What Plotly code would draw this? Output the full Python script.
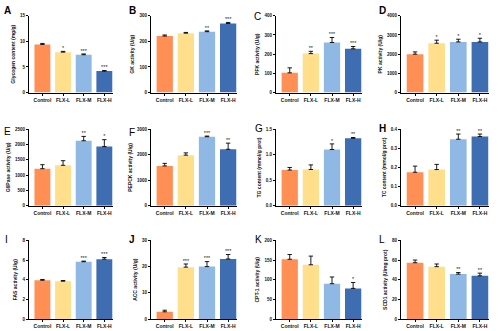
import plotly.graph_objects as go

categories = ["Control", "FLX-L", "FLX-M", "FLX-H"]
colors = ["#FF8F55", "#FFDE8C", "#8FB9E4", "#3E6DB2"]

panel_letters = ["A", "B", "C", "D", "E", "F", "G", "H", "I", "J", "K", "L"]
y_titles = [
    "Glycogen content (mg/g)", "GK activity (U/g)", "PFK activity (U/g)", "PK activity (U/g)",
    "G6Pase activity (U/g)", "PEPCK activity (U/g)", "TG content (mmol/g prot)", "TC content (mmol/g prot)",
    "FAS activity (U/g)", "ACC activity (U/g)", "CPT-1 activity (U/g)", "SCD1 activity (U/mg prot)",
]
means = [
    [9.4, 7.9, 7.4, 4.2],
    [221, 232, 238, 270],
    [103, 203, 261, 228],
    [2000, 2570, 2640, 2640],
    [1210, 1320, 2120, 1930],
    [1560, 1980, 2700, 2210],
    [0.70, 0.71, 1.10, 1.32],
    [0.175, 0.189, 0.347, 0.361],
    [3.95, 3.85, 5.83, 6.09],
    [2.8, 19.8, 20.0, 22.9],
    [152, 138, 90, 78],
    [57.3, 53.3, 45.7, 44.0],
]
errors = [
    [0.2, 0.15, 0.15, 0.1],
    [4, 3, 3, 4],
    [26, 12, 26, 12],
    [120, 160, 140, 190],
    [130, 150, 140, 225],
    [100, 90, 26, 240],
    [0.05, 0.09, 0.11, 0.015],
    [0.032, 0.027, 0.027, 0.013],
    [0.07, 0.07, 0.06, 0.17],
    [0.6, 1.2, 1.9, 1.7],
    [12, 22, 17, 15],
    [2.7, 2.7, 1.6, 2.7],
]
sig = [
    ["", "*", "***", "***"],
    ["", "", "**", "***"],
    ["", "**", "***", "***"],
    ["", "*", "*", "*"],
    ["", "", "**", "*"],
    ["", "", "***", "**"],
    ["", "", "*", "**"],
    ["", "", "**", "**"],
    ["", "", "***", "***"],
    ["", "***", "***", "***"],
    ["", "", "", "*"],
    ["", "", "**", "**"],
]
y_max = [15, 300, 400, 4000, 2500, 3000, 1.5, 0.4, 8, 30, 200, 80]
y_dtick = [5, 100, 100, 1000, 500, 1000, 0.5, 0.1, 2, 10, 50, 20]
y_fmt = ["", "", "", "", "", "", ".1f", ".1f", "", "", "", ""]

W, H = 500, 331
col_px = [(29, 113), (151, 237), (276, 362), (401, 489)]
row_px = [(14, 92), (129, 207), (242, 322)]
letter_px = [(2, 1), (127, 1), (252, 7), (377, 1),
             (2, 124), (127, 125), (253, 121), (377, 121),
             (3, 234), (127, 234), (253, 234), (377, 234)]
letter_bold = [True, True, False, True, False, False, False, True, False, True, False, False]

fig = go.Figure()
layout = {}
annotations = []
for i in range(12):
    r, c = divmod(i, 4)
    n = i + 1
    xs = "" if n == 1 else str(n)
    xa, ya = "x" + xs, "y" + xs
    fig.add_trace(go.Bar(
        x=categories, y=means[i], marker_color=colors, marker_line_width=0,
        error_y=dict(type="data", array=errors[i], arrayminus=[0] * 4, symmetric=False,
                     color="black", thickness=0.9, width=2.2),
        xaxis=xa, yaxis=ya, showlegend=False, width=0.77,
    ))
    fig.add_trace(go.Scatter(
        x=categories, y=[m + e for m, e in zip(means[i], errors[i])], text=sig[i],
        mode="text", textposition="top center", textfont=dict(size=5.5, color="#222"),
        xaxis=xa, yaxis=ya, showlegend=False, hoverinfo="skip", cliponaxis=False,
    ))
    x0, x1 = col_px[c]
    t, b = row_px[r]
    layout["xaxis" + xs] = dict(
        domain=[x0 / W, x1 / W], anchor=ya, range=[-0.65, 3.42],
        showline=True, linecolor="black", linewidth=1, ticks="outside", ticklen=2,
        tickwidth=0.8, tickcolor="black",
        tickfont=dict(size=5, color="#111", weight="bold"),
        showgrid=False, zeroline=False, fixedrange=True,
    )
    layout["yaxis" + xs] = dict(
        domain=[1 - b / H, 1 - t / H], anchor=xa, range=[0, y_max[i]], dtick=y_dtick[i],
        tickformat=y_fmt[i], showline=True, linecolor="black", linewidth=1,
        ticks="outside", ticklen=2, tickwidth=0.8, tickcolor="black",
        tickfont=dict(size=4.5, color="#111", weight="bold"), showgrid=False, zeroline=False,
        title=dict(text=y_titles[i], font=dict(size=5, color="#111", weight="bold"), standoff=4),
    )
    lx, ly = letter_px[i]
    annotations.append(dict(
        text=panel_letters[i], x=lx / W, y=1 - ly / H, xref="paper", yref="paper",
        xanchor="left", yanchor="top", showarrow=False,
        font=dict(size=10, color="black", family="Liberation Sans",
                  weight="bold" if letter_bold[i] else "normal"),
    ))

fig.update_layout(
    width=W, height=H, margin=dict(l=0, r=0, t=0, b=0),
    paper_bgcolor="white", plot_bgcolor="white", bargap=0.2,
    font=dict(family="Liberation Sans"), annotations=annotations, **layout,
)
fig.write_html("out.html")
